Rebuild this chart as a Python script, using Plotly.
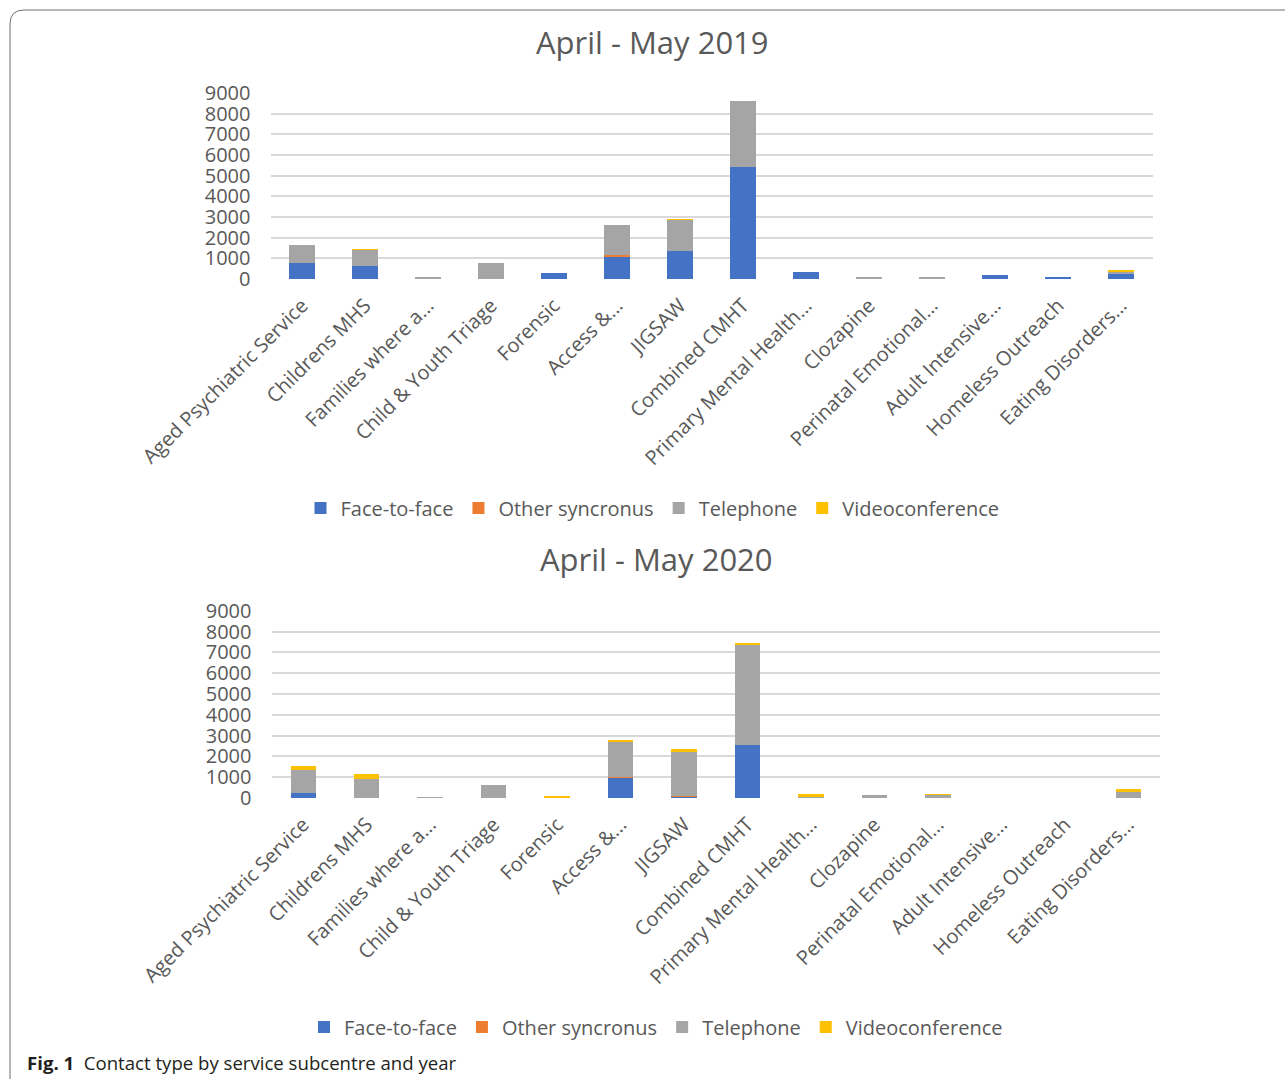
import plotly.graph_objects as go

# Service subcentres (truncated as shown on the axis)
services = [
    "Aged Psychiatric Service", "Childrens MHS", "Families where a...",
    "Child & Youth Triage", "Forensic", "Access &...", "JIGSAW",
    "Combined CMHT", "Primary Mental Health...", "Clozapine",
    "Perinatal Emotional...", "Adult Intensive...", "Homeless Outreach",
    "Eating Disorders...",
]
contact_types = ["Face-to-face", "Other syncronus", "Telephone", "Videoconference"]
colors = ["#4472C4", "#ED7D31", "#A5A5A5", "#FFC000"]

# April - May 2019 contacts
face_2019 = [780, 620, 20, 0, 290, 1100, 1370, 5420, 320, 0, 0, 190, 110, 270]
other_2019 = [0, 0, 0, 0, 0, 60, 0, 0, 0, 0, 0, 0, 0, 0]
tel_2019 = [880, 800, 80, 780, 0, 1450, 1500, 3180, 0, 110, 80, 0, 0, 80]
video_2019 = [0, 20, 0, 0, 0, 0, 30, 0, 0, 0, 0, 0, 0, 40]

# April - May 2020 contacts
face_2020 = [220, 20, 0, 0, 0, 980, 100, 2550, 0, 0, 0, 0, 0, 0]
other_2020 = [0, 0, 0, 0, 0, 10, 10, 0, 0, 0, 0, 0, 0, 0]
tel_2020 = [1120, 880, 30, 625, 60, 1750, 2085, 4850, 100, 140, 160, 0, 0, 270]
video_2020 = [200, 270, 0, 0, 50, 30, 177, 60, 90, 0, 30, 0, 0, 180]

y_ticks = [0, 1000, 2000, 3000, 4000, 5000, 6000, 7000, 8000, 9000]

W, H = 1285, 1079
FONT = "Open Sans"
GREY = "#595959"

fig = go.Figure()

series_2019 = [face_2019, other_2019, tel_2019, video_2019]
series_2020 = [face_2020, other_2020, tel_2020, video_2020]

for name, col, vals in zip(contact_types, colors, series_2019):
    fig.add_trace(go.Bar(x=services, y=vals, name=name, marker_color=col,
                         marker_line_width=0, xaxis="x", yaxis="y",
                         legend="legend"))
for name, col, vals in zip(contact_types, colors, series_2020):
    fig.add_trace(go.Bar(x=services, y=vals, name=name, marker_color=col,
                         marker_line_width=0, xaxis="x2", yaxis="y2",
                         legend="legend2"))


def py(px):
    # pixel row -> paper fraction
    return 1 - px / H


def px_x(px):
    return px / W


xaxis_common = dict(
    type="category", tickangle=-45, showgrid=False, zeroline=False,
    showline=False, ticks="", tickfont=dict(family=FONT, size=20, color=GREY),
    ticklabelstandoff=10, fixedrange=True, automargin=False,
)
yaxis_common = dict(
    range=[0, 9000], tickvals=y_ticks, showgrid=True, gridcolor="#D9D9D9",
    gridwidth=1.5, zeroline=False, showline=False, ticks="",
    tickfont=dict(family=FONT, size=20, color=GREY), ticklabelstandoff=19,
    fixedrange=True, automargin=False,
)

legend_common = dict(
    orientation="h", xanchor="center", yanchor="middle",
    font=dict(family=FONT, size=20, color=GREY), bgcolor="rgba(0,0,0,0)",
    itemwidth=30, tracegroupgap=0, traceorder="normal",
)

fig.update_layout(
    width=W, height=H, autosize=False,
    margin=dict(l=0, r=0, t=0, b=0, autoexpand=False),
    paper_bgcolor="white", plot_bgcolor="white",
    barmode="stack", bargap=0.6,
    xaxis=dict(domain=[px_x(270.5), px_x(1152.5)], anchor="y", **xaxis_common),
    yaxis=dict(domain=[py(279), py(93)], anchor="x", **yaxis_common),
    xaxis2=dict(domain=[px_x(271.5), px_x(1160)], anchor="y2", **xaxis_common),
    yaxis2=dict(domain=[py(798), py(610.7)], anchor="x2", **yaxis_common),
    legend=dict(x=px_x(652.5), y=py(508), **legend_common),
    legend2=dict(x=px_x(656), y=py(1027), **legend_common),
    showlegend=True,
)

# Chart titles
fig.add_annotation(text="April - May 2019", x=px_x(652), y=py(42),
                   xref="paper", yref="paper", showarrow=False,
                   font=dict(family=FONT, size=31, color=GREY),
                   xanchor="center", yanchor="middle")
fig.add_annotation(text="April - May 2020", x=px_x(656), y=py(559),
                   xref="paper", yref="paper", showarrow=False,
                   font=dict(family=FONT, size=31, color=GREY),
                   xanchor="center", yanchor="middle")

# Figure caption
fig.add_annotation(text="<b>Fig. 1</b>  Contact type by service subcentre and year",
                   x=px_x(25), y=py(1062), xref="paper", yref="paper",
                   showarrow=False, xanchor="left", yanchor="middle",
                   font=dict(family=FONT, size=18.6, color="#231F20"))

# Rounded frame around the figure
r = 14
x0, y0 = px_x(10), py(10)
dx, dy = r / W, r / H
fig.add_shape(
    type="path", xref="paper", yref="paper",
    path=(f"M {px_x(1300)} {y0} L {x0 + dx} {y0} "
          f"Q {x0} {y0} {x0} {y0 - dy} L {x0} {py(1100)}"),
    line=dict(color="#6D6E71", width=1),
)

fig.write_html("out.html")
